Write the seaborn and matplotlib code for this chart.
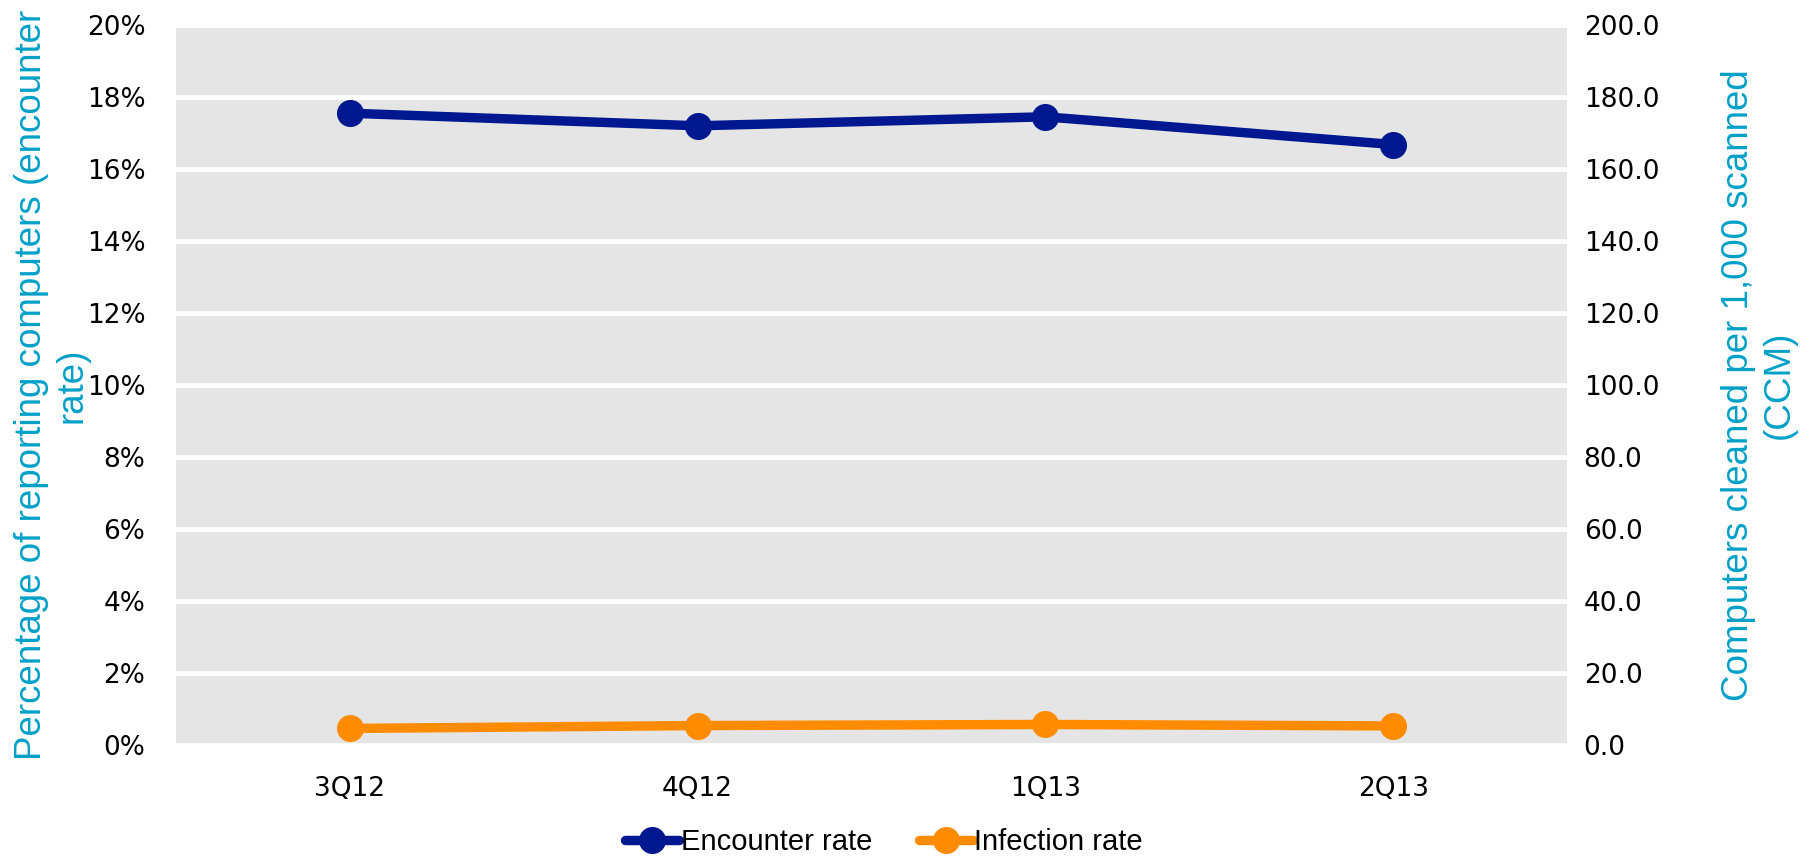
import matplotlib
matplotlib.use("Agg")
import matplotlib.pyplot as plt
import seaborn as sns
import pandas as pd
from matplotlib.ticker import FuncFormatter, MultipleLocator

quarters = ["3Q12", "4Q12", "1Q13", "2Q13"]
encounter_rate = [17.55, 17.2, 17.45, 16.68]   # percent of reporting computers
infection_ccm = [4.6, 5.4, 5.7, 5.3]           # computers cleaned per 1,000 scanned

sns.set_style("white")
plt.rcParams["font.family"] = ["DejaVu Sans"]
plt.rcParams["text.color"] = "black"

NAVY = "#00188F"
ORANGE = "#FF8C00"
TITLE_BLUE = "#00A0C8"
LW = 6.8
MS = 19.5

df = pd.DataFrame({"quarter": quarters, "encounter": encounter_rate, "ccm": infection_ccm})
df["pos"] = range(len(quarters))

fig = plt.figure(figsize=(18.17, 8.58), dpi=100)
ax = fig.add_axes([176 / 1817, 1 - 745 / 858, (1567 - 176) / 1817, (745 - 25) / 858])
ax.set_facecolor("#E5E5E5")

sns.lineplot(data=df, x="pos", y="encounter", ax=ax, color=NAVY, linewidth=LW,
             marker="o", markersize=MS, markeredgewidth=0, label="Encounter rate",
             legend=False, zorder=3)
ax.set_ylim(0, 20)
ax.yaxis.set_major_locator(MultipleLocator(2))
ax.yaxis.set_major_formatter(FuncFormatter(lambda v, p: f"{v:.0f}%"))
ax.grid(axis="y", color="white", linewidth=3.5)
ax.set_axisbelow(True)

ax2 = ax.twinx()
sns.lineplot(data=df, x="pos", y="ccm", ax=ax2, color=ORANGE, linewidth=LW,
             marker="o", markersize=MS, markeredgewidth=0, label="Infection rate",
             legend=False, zorder=3)
ax2.set_ylim(0, 200)
ax2.yaxis.set_major_locator(MultipleLocator(20))
ax2.yaxis.set_major_formatter(FuncFormatter(lambda v, p: f"{v:.1f}"))

ax.set_xlim(-0.5, len(quarters) - 0.5)
ax.set_xticks(df["pos"])
ax.set_xticklabels(quarters)

for a in (ax, ax2):
    for s in a.spines.values():
        s.set_visible(False)
    a.tick_params(length=0, labelsize=19, colors="black")
ax.tick_params(axis="y", pad=22)
ax.tick_params(axis="x", pad=22)
ax2.tick_params(axis="y", pad=12)

ax.set_xlabel("")
ax.set_ylabel("Percentage of reporting computers (encounter\nrate)", color=TITLE_BLUE,
              fontsize=26.5, family="Liberation Sans", linespacing=1.2,
              ha="center", va="center")
ax.yaxis.set_label_coords(-0.0895, 0.5)
ax2.set_ylabel("Computers cleaned per 1,000 scanned\n(CCM)", color=TITLE_BLUE,
               fontsize=26.5, family="Liberation Sans", linespacing=1.2,
               rotation=90, ha="center", va="center")
ax2.yaxis.set_label_coords(1.138, 0.5)

h1, l1 = ax.get_legend_handles_labels()
h2, l2 = ax2.get_legend_handles_labels()
fig.legend(h1 + h2, l1 + l2, loc="center", bbox_to_anchor=(884 / 1817, 1 - 842 / 858),
           ncol=2, frameon=False, prop={"family": "Liberation Sans", "size": 21},
           labelcolor="black", handlelength=1.85, handletextpad=0.05, columnspacing=1.6)

fig.savefig("out.png", dpi=100)
